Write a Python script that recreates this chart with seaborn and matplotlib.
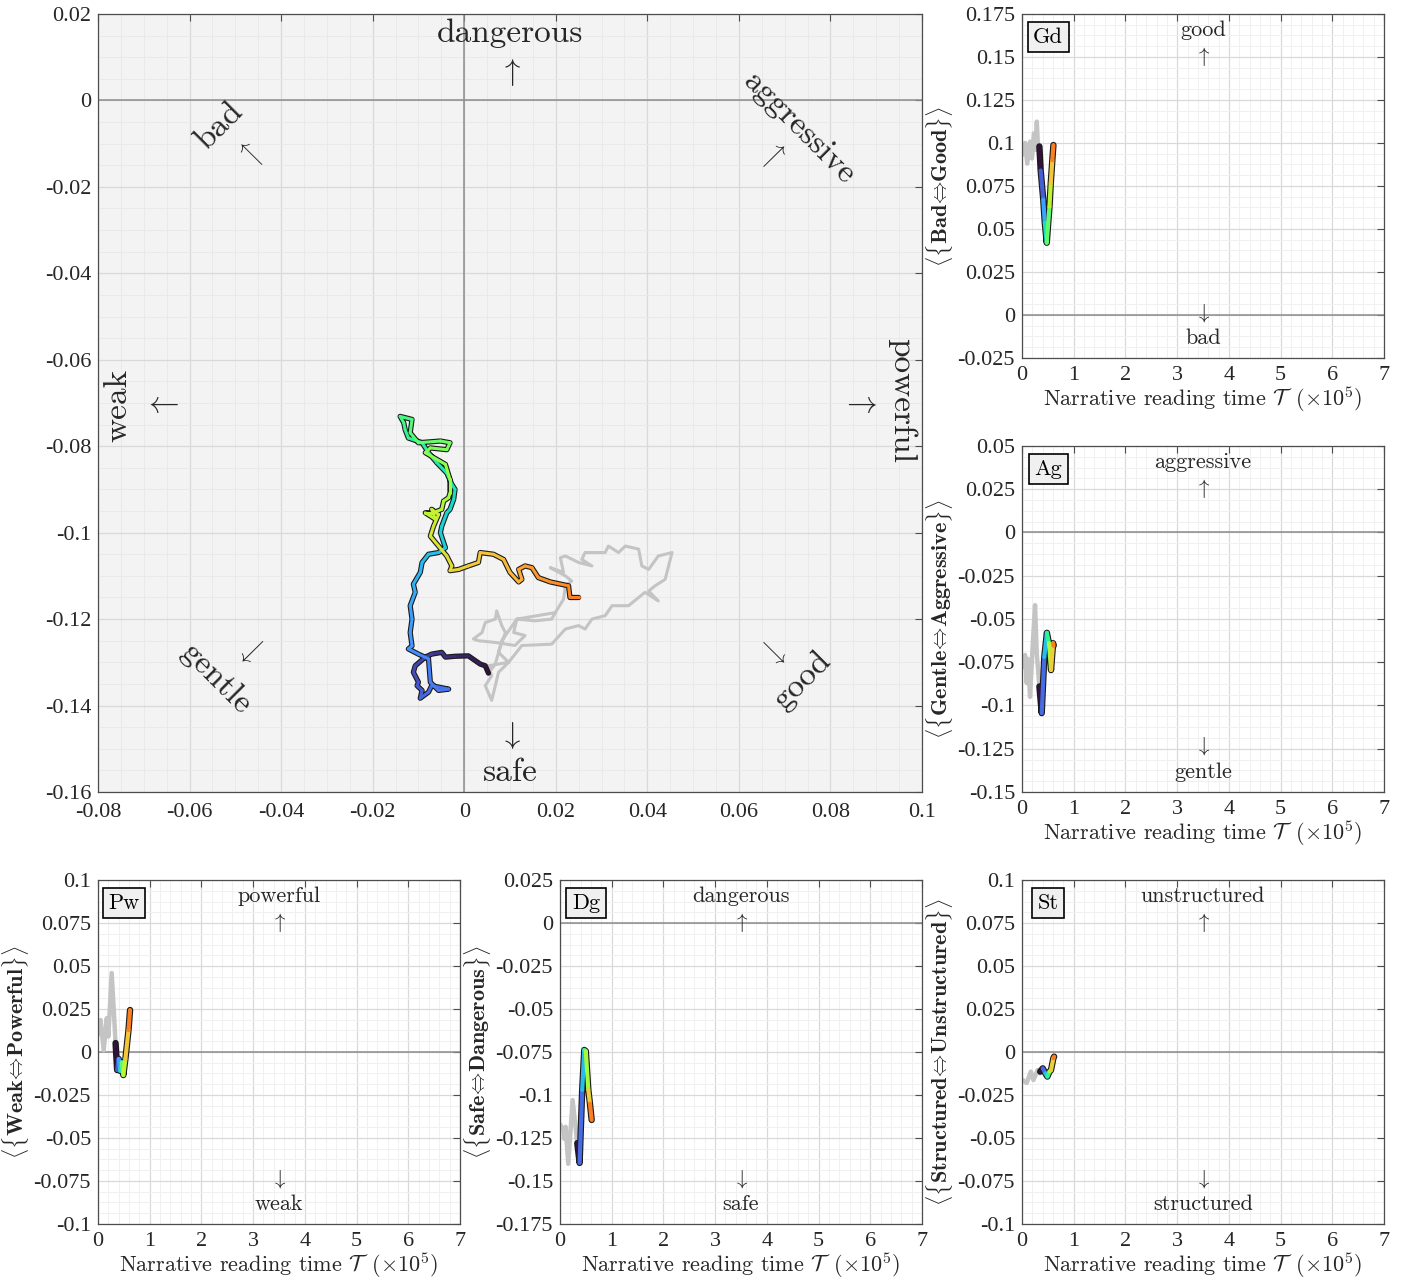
import numpy as np
import matplotlib
matplotlib.use("Agg")
import matplotlib.pyplot as plt
import seaborn as sns
from matplotlib.collections import LineCollection
from matplotlib.ticker import FuncFormatter, MultipleLocator, AutoMinorLocator

# main plane trajectory: early part (gray) then coloured part
gray_x = [0.0199, 0.0115, 0.0108, 0.0133, 0.0111, 0.0068, 0.0031, 0.0020, 0.0039, 0.0046,
          0.0068, 0.0071, 0.0082, 0.0090, 0.0075, 0.0097, 0.0075, 0.0068, 0.0060, 0.0046,
          0.0060, 0.0053, 0.0097, 0.0126, 0.0191, 0.0221, 0.0250, 0.0264, 0.0279, 0.0308,
          0.0323, 0.0359, 0.0395, 0.0424, 0.0403, 0.0417, 0.0439, 0.0454, 0.0424, 0.0403,
          0.0388, 0.0381, 0.0352, 0.0337, 0.0315, 0.0308, 0.0264, 0.0257, 0.0279, 0.0250,
          0.0221, 0.0210, 0.0217, 0.0199, 0.0188, 0.0221, 0.0235, 0.0221, 0.0217, 0.0199,
          0.0191, 0.0155, 0.0115, 0.0082, 0.0068, 0.0053]
gray_y = [-0.1185, -0.1200, -0.1231, -0.1238, -0.1261, -0.1254, -0.1250, -0.1246, -0.1231, -0.1208,
          -0.1200, -0.1181, -0.1215, -0.1231, -0.1277, -0.1300, -0.1323, -0.1354, -0.1388, -0.1354,
          -0.1331, -0.1308, -0.1300, -0.1261, -0.1258, -0.1223, -0.1215, -0.1223, -0.1200, -0.1192,
          -0.1169, -0.1169, -0.1138, -0.1158, -0.1135, -0.1123, -0.1108, -0.1046, -0.1054, -0.1085,
          -0.1077, -0.1038, -0.1031, -0.1046, -0.1031, -0.1046, -0.1046, -0.1062, -0.1077, -0.1069,
          -0.1054, -0.1058, -0.1092, -0.1085, -0.1081, -0.1100, -0.1112, -0.1123, -0.1154, -0.1185,
          -0.1200, -0.1204, -0.1200, -0.1250, -0.1304, -0.1325]

path_x = [0.0053, 0.0046, 0.0035, 0.0009, -0.0020, -0.0041, -0.0049, -0.0071, -0.0085, -0.0107,
          -0.0111, -0.0100, -0.0103,
          -0.0092, -0.0096, -0.0078, -0.0071, -0.0034, -0.0056, -0.0074,
          -0.0078, -0.0100, -0.0122, -0.0114,
          -0.0118, -0.0114, -0.0118, -0.0107, -0.0111, -0.0096, -0.0092, -0.0078, -0.0056, -0.0041,
          -0.0052, -0.0049,
          -0.0038, -0.0031, -0.0023, -0.0020, -0.0027, -0.0038, -0.0060, -0.0078,
          -0.0092, -0.0122, -0.0129, -0.0132, -0.0140, -0.0114, -0.0118,
          -0.0100, -0.0052, -0.0031, -0.0038, -0.0074,
          -0.0085, -0.0041, -0.0031, -0.0031, -0.0034, -0.0045,
          -0.0049, -0.0067, -0.0085, -0.0063, -0.0071, -0.0056,
          -0.0067, -0.0074, -0.0056, -0.0038, -0.0027, -0.0031, -0.0012, 0.0009, 0.0031, 0.0035,
          0.0064, 0.0086,
          0.0100, 0.0119, 0.0126, 0.0119, 0.0133, 0.0148, 0.0162, 0.0188, 0.0228, 0.0231, 0.0250]
path_y = [-0.1325, -0.1308, -0.1304, -0.1285, -0.1286, -0.1288, -0.1277, -0.1281, -0.1288, -0.1308,
          -0.1323, -0.1346, -0.1354,
          -0.1365, -0.1383, -0.1369, -0.1354, -0.1362, -0.1365, -0.1346,
          -0.1292, -0.1281, -0.1269, -0.1262,
          -0.1231, -0.1200, -0.1169, -0.1138, -0.1119, -0.1092, -0.1069, -0.1050, -0.1046, -0.1035,
          -0.1000, -0.0985,
          -0.0954, -0.0946, -0.0923, -0.0900, -0.0888, -0.0862, -0.0838, -0.0815,
          -0.0792, -0.0781, -0.0762, -0.0746, -0.0731, -0.0738, -0.0769,
          -0.0792, -0.0788, -0.0792, -0.0808, -0.0804,
          -0.0815, -0.0842, -0.0877, -0.0908, -0.0919, -0.0927,
          -0.0946, -0.0954, -0.0954, -0.0969, -0.0946, -0.0958,
          -0.0985, -0.1008, -0.1031, -0.1054, -0.1077, -0.1088, -0.1085, -0.1077, -0.1069, -0.1046,
          -0.1050, -0.1062,
          -0.1092, -0.1114, -0.1108, -0.1085, -0.1077, -0.1081, -0.1104, -0.1114, -0.1123, -0.1150, -0.1150]

# time series panels (T in units of 1e5)
gd_gray_t = [0.0, 0.06, 0.10, 0.155, 0.19, 0.23, 0.26, 0.285, 0.31, 0.335]
gd_gray_v = [0.093, 0.100, 0.088, 0.1008, 0.091, 0.1056, 0.096, 0.1124, 0.096, 0.098]
gd_col_t = [0.335, 0.36, 0.41, 0.44, 0.477, 0.53, 0.555, 0.585, 0.606]
gd_col_v = [0.098, 0.084, 0.067, 0.0535, 0.042, 0.063, 0.0767, 0.090, 0.0988]

ag_gray_t = [0.0, 0.058, 0.09, 0.11, 0.155, 0.206, 0.251, 0.284, 0.335]
ag_gray_v = [-0.078, -0.0708, -0.087, -0.073, -0.095, -0.065, -0.042, -0.070, -0.089]
ag_col_t = [0.335, 0.38, 0.43, 0.48, 0.52, 0.56, 0.60, 0.61]
ag_col_v = [-0.089, -0.1044, -0.0719, -0.058, -0.064, -0.0795, -0.064, -0.0655]

pw_gray_t = [0.0, 0.05, 0.11, 0.17, 0.20, 0.265, 0.34]
pw_gray_v = [0.010, 0.0186, 0.001, 0.0197, 0.009, 0.0459, 0.0052]
pw_col_t = [0.34, 0.37, 0.40, 0.43, 0.46, 0.49, 0.53, 0.59, 0.62]
pw_col_v = [0.0052, -0.0105, -0.004, -0.011, -0.006, -0.0134, -0.004, 0.0128, 0.0244]

dg_gray_t = [0.0, 0.065, 0.084, 0.11, 0.16, 0.245, 0.335]
dg_gray_v = [-0.117, -0.120, -0.1255, -0.1185, -0.140, -0.103, -0.128]
dg_col_t = [0.335, 0.38, 0.43, 0.47, 0.50, 0.548, 0.58, 0.613]
dg_col_v = [-0.128, -0.1395, -0.097, -0.0738, -0.0745, -0.097, -0.105, -0.1145]

st_gray_t = [0.0, 0.09, 0.17, 0.22, 0.30, 0.35]
st_gray_v = [-0.016, -0.018, -0.0114, -0.0163, -0.0105, -0.0124]
st_col_t = [0.35, 0.40, 0.45, 0.49, 0.53, 0.56, 0.605, 0.62]
st_col_v = [-0.0114, -0.0095, -0.0124, -0.0143, -0.0114, -0.0105, -0.0036, -0.0027]

sns.set_theme(style="white")
plt.rcParams["font.family"] = ["Liberation Serif", "DejaVu Serif"]
plt.rcParams["mathtext.fontset"] = "cm"
plt.rcParams["axes.unicode_minus"] = False
CM = "cmr10"
TXT = "#262626"

fmt = FuncFormatter(lambda v, _: "0" if abs(v) < 1e-9 else f"{round(v, 4):g}")


def style_axes(ax, bg, xpad=8):
    ax.set_facecolor(bg)
    for s in ax.spines.values():
        s.set_color("#4d4d4d")
        s.set_linewidth(0.9)
    ax.tick_params(which="both", direction="in", top=True, right=True,
                   labelsize=16, colors="#4d4d4d", labelcolor=TXT)
    ax.tick_params(which="major", length=5, width=0.8)
    ax.tick_params(axis="x", which="major", pad=xpad)
    ax.tick_params(axis="y", which="major", pad=5)
    ax.tick_params(which="minor", length=0)
    minor_c = "#e9e9e9" if bg != "white" else "#f0f0f0"
    ax.grid(which="major", color="#d9d9d9", lw=0.9)
    ax.grid(which="minor", color=minor_c, lw=0.7)
    ax.set_axisbelow(True)
    ax.xaxis.set_major_formatter(fmt)
    ax.yaxis.set_major_formatter(fmt)


def colored_line(ax, x, y, lw, top=0.75):
    x = np.asarray(x)
    y = np.asarray(y)
    ax.plot(x, y, color="#1a1a1a", lw=lw + 1.6, solid_capstyle="round",
            solid_joinstyle="round", zorder=3)
    pts = np.column_stack([x, y]).reshape(-1, 1, 2)
    segs = np.concatenate([pts[:-1], pts[1:]], axis=1)
    cols = plt.get_cmap("turbo")(np.linspace(0.0, top, len(segs)))
    lc = LineCollection(segs, colors=cols, linewidths=lw, capstyle="round",
                        joinstyle="round", zorder=4)
    ax.add_collection(lc)


fig = plt.figure(figsize=(14.08, 12.83), dpi=100)

# ---- main plane
ax = fig.add_axes([0.0696, 0.3827, 0.5852, 0.6064])
style_axes(ax, "#f3f3f3")
ax.set_xlim(-0.08, 0.1)
ax.set_ylim(-0.16, 0.02)
ax.xaxis.set_major_locator(MultipleLocator(0.02))
ax.yaxis.set_major_locator(MultipleLocator(0.02))
ax.xaxis.set_minor_locator(AutoMinorLocator(4))
ax.yaxis.set_minor_locator(AutoMinorLocator(4))
ax.axhline(0, color="#8c8c8c", lw=1.1, zorder=1)
ax.axvline(0, color="#8c8c8c", lw=1.1, zorder=1)
sns.lineplot(x=gray_x, y=gray_y, sort=False, estimator=None, color="#c4c4c4",
             lw=2.2, ax=ax, zorder=2)
colored_line(ax, path_x, path_y, lw=2.2)

big = dict(fontsize=24, family=CM, color=TXT, ha="center", va="center",
           rotation_mode="anchor")
arr = dict(fontsize=22, color=TXT, ha="center", va="center")
diag = dict(fontsize=17, color=TXT, ha="center", va="center")
ax.text(0.01, 0.0155, "dangerous", **big)
ax.text(0.01, 0.0065, r"$\uparrow$", **arr)
ax.text(0.01, -0.1555, "safe", **big)
ax.text(0.01, -0.1470, r"$\downarrow$", **arr)
ax.text(-0.0757, -0.0706, "weak", rotation=90, **big)
ax.text(-0.0663, -0.0703, r"$\leftarrow$", **arr)
ax.text(0.0956, -0.0694, "powerful", rotation=-90, **big)
ax.text(0.0862, -0.0703, r"$\rightarrow$", **arr)
ax.text(-0.0536, -0.0058, "bad", rotation=45, **big)
ax.text(-0.0469, -0.0124, r"$\nwarrow$", **diag)
ax.text(0.0731, -0.0065, "aggressive", rotation=-45, **big)
ax.text(0.0672, -0.0128, r"$\nearrow$", **diag)
ax.text(-0.0542, -0.1337, "gentle", rotation=-45, **big)
ax.text(-0.0468, -0.1277, r"$\swarrow$", **diag)
ax.text(0.0737, -0.1342, "good", rotation=45, **big)
ax.text(0.0672, -0.1277, r"$\searrow$", **diag)

# ---- time-series panels
panels = [
    ([0.7259, 0.7210, 0.2571, 0.2681], "Gd", "Bad", "Good", "good", "bad",
     (-0.025, 0.175), gd_gray_t, gd_gray_v, gd_col_t, gd_col_v),
    ([0.7259, 0.3827, 0.2571, 0.2697], "Ag", "Gentle", "Aggressive", "aggressive", "gentle",
     (-0.15, 0.05), ag_gray_t, ag_gray_v, ag_col_t, ag_col_v),
    ([0.0696, 0.0460, 0.2571, 0.2681], "Pw", "Weak", "Powerful", "powerful", "weak",
     (-0.1, 0.1), pw_gray_t, pw_gray_v, pw_col_t, pw_col_v),
    ([0.3977, 0.0460, 0.2571, 0.2681], "Dg", "Safe", "Dangerous", "dangerous", "safe",
     (-0.175, 0.025), dg_gray_t, dg_gray_v, dg_col_t, dg_col_v),
    ([0.7259, 0.0460, 0.2571, 0.2681], "St", "Structured", "Unstructured", "unstructured",
     "structured", (-0.1, 0.1), st_gray_t, st_gray_v, st_col_t, st_col_v),
]

for rect, tag, lo, hi, top_w, bot_w, ylim, gt, gv, ct, cv in panels:
    a = fig.add_axes(rect)
    style_axes(a, "white", xpad=6)
    a.set_xlim(0, 7)
    a.set_ylim(*ylim)
    a.xaxis.set_major_locator(MultipleLocator(1))
    a.yaxis.set_major_locator(MultipleLocator(0.025))
    a.xaxis.set_minor_locator(AutoMinorLocator(5))
    a.yaxis.set_minor_locator(AutoMinorLocator(4))
    a.axhline(0, color="#8c8c8c", lw=1.1, zorder=1)
    sns.lineplot(x=gt, y=gv, sort=False, estimator=None, color="#c4c4c4",
                 lw=3.2, ax=a, zorder=2)
    colored_line(a, ct, cv, lw=3.0)
    a.set_xlabel(r"Narrative reading time $\mathcal{T}\;\;(\times 10^5)$",
                 fontsize=16, family=CM, color=TXT, labelpad=-1)
    a.set_ylabel(r"$\langle\{\mathbf{%s}\!\Leftrightarrow\!\mathbf{%s}\}\rangle$" % (lo, hi),
                 fontsize=16, color=TXT, labelpad=2)
    kw = dict(transform=a.transAxes, ha="center", va="center", color=TXT)
    a.text(0.5, 0.953, top_w, fontsize=16, family=CM, **kw)
    a.text(0.5, 0.877, r"$\uparrow$", fontsize=15, **kw)
    a.text(0.5, 0.132, r"$\downarrow$", fontsize=15, **kw)
    a.text(0.5, 0.058, bot_w, fontsize=16, family=CM, **kw)
    a.text(0.072, 0.933, tag, fontsize=16, family=CM, transform=a.transAxes,
           ha="center", va="center", color="black", zorder=6,
           bbox=dict(boxstyle="square,pad=0.25", fc="#f0f0f0", ec="black", lw=1.2))

fig.savefig("out.png", dpi=100)
